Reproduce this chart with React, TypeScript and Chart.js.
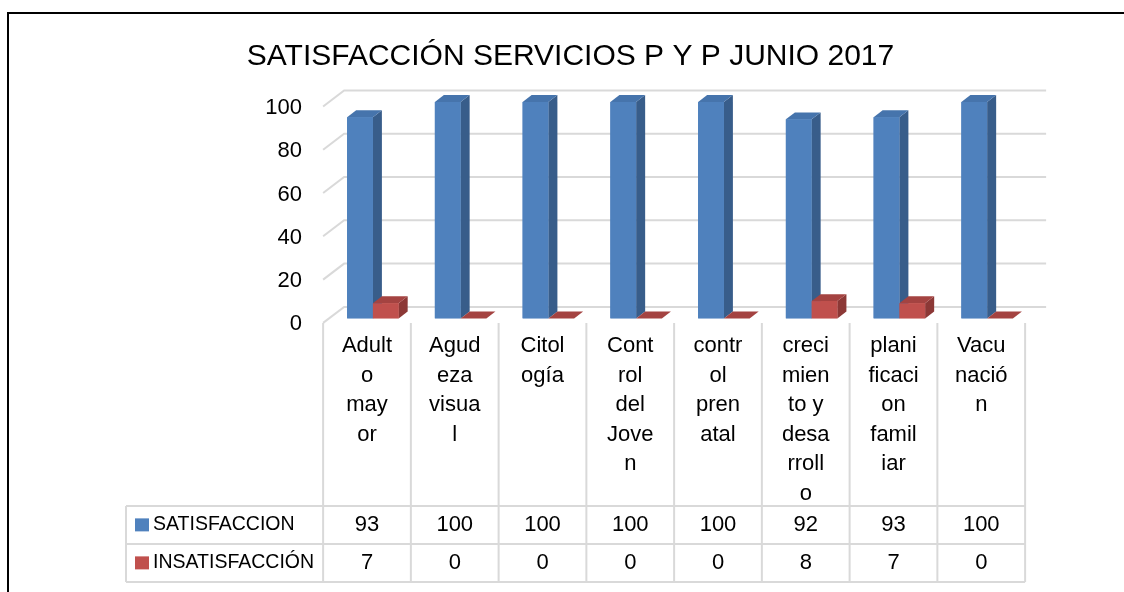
import React, { useEffect, useRef } from "react";
import { Chart, registerables } from "chart.js";

Chart.register(...registerables);

// ---------- data ----------
const titleText = "SATISFACCIÓN SERVICIOS P Y P JUNIO 2017";
const categories = [
  ["Adult", "o", "may", "or"],
  ["Agud", "eza", "visua", "l"],
  ["Citol", "ogía"],
  ["Cont", "rol", "del", "Jove", "n"],
  ["contr", "ol", "pren", "atal"],
  ["creci", "mien", "to y", "desa", "rroll", "o"],
  ["plani", "ficaci", "on", "famil", "iar"],
  ["Vacu", "nació", "n"],
];
const seriesNames = ["SATISFACCION", "INSATISFACCIÓN"];
const satisfaccion = [93, 100, 100, 100, 100, 92, 93, 100];
const insatisfaccion = [7, 0, 0, 0, 0, 8, 7, 0];
const yMin = 0;
const yMax = 100;
const yStep = 20;

// ---------- style ----------
const FONT = "'Liberation Sans', Arial, sans-serif";
const FRONT = ["#4F81BD", "#C0504D"];
const SIDE = ["#385D8A", "#8C3836"];
const TOPC = ["#4674AC", "#A44341"];
const GRID = "#D9D9D9";
const DDX = 21; // full depth of the 3D box
const DDY = -16;
const BAR_T = 0.28; // depth of bar front plane
const BAR_D = 0.43; // bar thickness (fraction of depth)
const HEADER_H = 183;
const ROW_H = 38;
const TABLE_LEFT = 126;
const LINE_H = 29.5;

const frontOffX = -BAR_T * DDX;
const frontOffY = -BAR_T * DDY;

const framePlugin = {
  id: "frame",
  beforeDraw(chart: any) {
    const ctx = chart.ctx;
    ctx.save();
    ctx.fillStyle = "#fff";
    ctx.fillRect(0, 0, chart.width, chart.height);
    ctx.strokeStyle = "#000";
    ctx.lineWidth = 2;
    ctx.beginPath();
    ctx.moveTo(8, chart.height);
    ctx.lineTo(8, 13);
    ctx.lineTo(chart.width, 13);
    ctx.stroke();
    ctx.restore();
  },
};

const grid3dPlugin = {
  id: "grid3d",
  beforeDatasetsDraw(chart: any) {
    const { ctx, chartArea } = chart;
    const y = chart.scales.y;
    ctx.save();
    ctx.strokeStyle = GRID;
    ctx.lineWidth = 2;
    y.ticks.forEach((t: any) => {
      const yb = y.getPixelForValue(t.value);
      const fx = chartArea.left + frontOffX;
      const fy = yb + frontOffY;
      const bx = fx + DDX;
      const by = fy + DDY;
      const rx = chartArea.right + frontOffX + DDX;
      ctx.beginPath();
      ctx.moveTo(fx, fy);
      ctx.lineTo(bx, by);
      ctx.lineTo(rx, by);
      ctx.stroke();
    });
    ctx.restore();
  },
};

const bars3dPlugin = {
  id: "bars3d",
  afterDatasetsDraw(chart: any) {
    const ctx = chart.ctx;
    const sdx = BAR_D * DDX;
    const sdy = BAR_D * DDY;
    const n = chart.data.labels.length;
    ctx.save();
    for (let i = 0; i < n; i++) {
      chart.data.datasets.forEach((_: any, d: number) => {
        const el = chart.getDatasetMeta(d).data[i];
        if (!el) return;
        const p = el.getProps(["x", "y", "base", "width"], true);
        const xl = p.x - p.width / 2;
        const xr = p.x + p.width / 2;
        const top = Math.min(p.y, p.base);
        const bot = Math.max(p.y, p.base);
        // side
        ctx.fillStyle = SIDE[d];
        ctx.beginPath();
        ctx.moveTo(xr, top);
        ctx.lineTo(xr + sdx, top + sdy);
        ctx.lineTo(xr + sdx, bot + sdy);
        ctx.lineTo(xr, bot);
        ctx.closePath();
        ctx.fill();
        // top
        ctx.fillStyle = TOPC[d];
        ctx.beginPath();
        ctx.moveTo(xl, top);
        ctx.lineTo(xr, top);
        ctx.lineTo(xr + sdx, top + sdy);
        ctx.lineTo(xl + sdx, top + sdy);
        ctx.closePath();
        ctx.fill();
        // front
        ctx.fillStyle = FRONT[d];
        ctx.fillRect(xl, top, p.width, bot - top);
      });
    }
    ctx.restore();
  },
};

const tablePlugin = {
  id: "dataTable",
  afterDraw(chart: any) {
    const { ctx } = chart;
    const x = chart.scales.x;
    const y = chart.scales.y;
    const labels = chart.data.labels as string[][];
    const n = labels.length;
    const catW = (x.right - x.left) / n;
    const colLeft = (i: number) =>
      i < n ? x.getPixelForValue(i) - catW / 2 + frontOffX : x.getPixelForValue(n - 1) + catW / 2 + frontOffX;
    const headerTop = y.getPixelForValue(0) + frontOffY;
    const rowTop = headerTop + HEADER_H;
    const bottom = rowTop + ROW_H * chart.data.datasets.length;
    const right = colLeft(n);

    ctx.save();
    ctx.strokeStyle = GRID;
    ctx.lineWidth = 2;
    ctx.beginPath();
    for (let i = 0; i <= n; i++) {
      const cx = colLeft(i);
      ctx.moveTo(cx, headerTop);
      ctx.lineTo(cx, bottom);
    }
    for (let r = 0; r <= chart.data.datasets.length; r++) {
      const ry = rowTop + r * ROW_H;
      ctx.moveTo(TABLE_LEFT, ry);
      ctx.lineTo(right, ry);
    }
    ctx.moveTo(TABLE_LEFT, rowTop);
    ctx.lineTo(TABLE_LEFT, bottom);
    ctx.stroke();

    ctx.fillStyle = "#000";
    ctx.textAlign = "center";
    ctx.textBaseline = "middle";
    ctx.font = `22px ${FONT}`;
    labels.forEach((lines, i) => {
      const cx = colLeft(i) + catW / 2;
      lines.forEach((ln, k) => {
        ctx.fillText(ln, cx, headerTop + 23.5 + k * LINE_H);
      });
    });

    chart.data.datasets.forEach((ds: any, d: number) => {
      const cy = rowTop + d * ROW_H + ROW_H / 2;
      ctx.fillStyle = "#000";
      ctx.textAlign = "center";
      ctx.font = `22px ${FONT}`;
      ds.data.forEach((v: number, i: number) => {
        ctx.fillText(String(v), colLeft(i) + catW / 2, cy);
      });
      ctx.fillStyle = FRONT[d];
      ctx.fillRect(TABLE_LEFT + 9, cy - 6.5, 14, 13);
      ctx.fillStyle = "#000";
      ctx.textAlign = "left";
      ctx.font = `19.5px ${FONT}`;
      ctx.fillText(ds.label, TABLE_LEFT + 27, cy);
    });
    ctx.restore();
  },
};

export default function App() {
  const ref = useRef<HTMLCanvasElement | null>(null);

  useEffect(() => {
    if (!ref.current) return;
    const chart = new Chart(ref.current, {
      type: "bar",
      data: {
        labels: categories as any,
        datasets: [
          {
            label: seriesNames[0],
            data: satisfaccion,
            backgroundColor: FRONT[0],
            borderWidth: 0,
            categoryPercentage: 0.587,
            barPercentage: 1,
          },
          {
            label: seriesNames[1],
            data: insatisfaccion,
            backgroundColor: FRONT[1],
            borderWidth: 0,
            categoryPercentage: 0.587,
            barPercentage: 1,
          },
        ],
      },
      options: {
        animation: false,
        responsive: false,
        devicePixelRatio: 1,
        layout: { padding: { left: 110, right: 93, top: 0, bottom: 273.6 } },
        plugins: {
          legend: { display: false },
          tooltip: { enabled: false },
          title: {
            display: true,
            text: titleText,
            color: "#000",
            font: { family: FONT, size: 30, weight: "normal", lineHeight: 1.2 },
            padding: { top: 38.5, bottom: 27.5 },
          },
        },
        scales: {
          x: { display: false, offset: true },
          y: {
            min: yMin,
            max: yMax,
            ticks: {
              stepSize: yStep,
              color: "#000",
              font: { family: FONT, size: 22 },
              padding: 27,
              labelOffset: 6,
            },
            grid: { display: false, drawTicks: false },
            border: { display: false },
            afterFit: (s: any) => {
              s.width = 219;
            },
          },
        },
      },
      plugins: [framePlugin, grid3dPlugin, bars3dPlugin, tablePlugin],
    } as any);
    return () => chart.destroy();
  }, []);

  return (
    <div style={{ position: "fixed", left: 0, top: 0, width: 1124, height: 592, background: "#fff" }}>
      <canvas ref={ref} width={1124} height={592} style={{ display: "block" }} />
    </div>
  );
}
